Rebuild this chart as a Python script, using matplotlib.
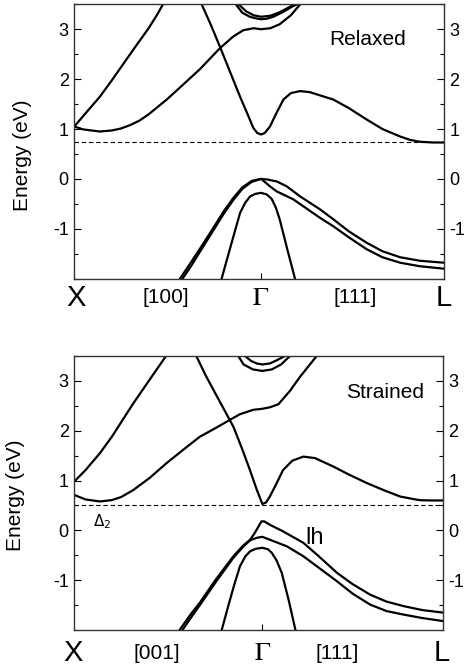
import numpy as np
import matplotlib
matplotlib.use('Agg')
import matplotlib.pyplot as plt
from matplotlib.ticker import MultipleLocator

plt.rcParams['font.family'] = ['Liberation Sans', 'DejaVu Sans']
plt.rcParams['axes.unicode_minus'] = False

# ---------------- Relaxed (top panel) ----------------
# k: X = 0, Gamma = 1, L = right edge
relax_kmax = 1.98
relax_gap = 0.73

relax_c1_k = [0, 0.05, 0.1375, 0.2, 0.25, 0.3, 0.35, 0.4, 0.495, 0.58, 0.673, 0.78, 0.85, 0.905, 0.96, 1.0,
              1.05, 1.1, 1.16, 1.21]
relax_c1_e = [1.05, 0.99, 0.95, 0.97, 1.01, 1.08, 1.17, 1.3, 1.59, 1.88, 2.2, 2.62, 2.85, 2.98, 3.02, 3.0,
              3.02, 3.1, 3.28, 3.5]

relax_c2_k = [0, 0.05, 0.1375, 0.2, 0.316, 0.4, 0.445, 0.475]
relax_c2_e = [1.05, 1.27, 1.65, 1.97, 2.59, 3.03, 3.3, 3.5]

relax_c3_k = [0.682, 0.73, 0.78, 0.8875, 0.93, 0.959, 0.98, 1.0, 1.02, 1.048, 1.08, 1.12, 1.16, 1.209,
              1.26, 1.3875, 1.47, 1.566, 1.65, 1.745, 1.8, 1.85, 1.92, 1.98]
relax_c3_e = [3.5, 3.1, 2.65, 1.65, 1.28, 1.02, 0.92, 0.89, 0.92, 1.05, 1.3, 1.59, 1.72, 1.76,
              1.74, 1.59, 1.42, 1.19, 1.0, 0.85, 0.78, 0.745, 0.73, 0.73]

relax_u1_k = [0.865, 0.9, 0.94, 0.97, 1.0, 1.03, 1.066, 1.12, 1.17, 1.195]
relax_u1_e = [3.5, 3.33, 3.25, 3.22, 3.2, 3.21, 3.25, 3.35, 3.46, 3.5]
relax_u2_k = [0.88, 0.92, 0.96, 1.0, 1.05, 1.1, 1.15, 1.18]
relax_u2_e = [3.5, 3.36, 3.28, 3.25, 3.27, 3.34, 3.44, 3.5]

relax_v1_k = [0.566, 0.62, 0.673, 0.75, 0.8, 0.852, 0.9, 0.95, 1.0, 1.03, 1.084, 1.138, 1.209, 1.316,
              1.3875, 1.47, 1.566, 1.65, 1.745, 1.85, 1.98]
relax_v1_e = [-2.0, -1.7, -1.4, -0.95, -0.65, -0.38, -0.17, -0.04, 0.0, -0.01, -0.05, -0.15, -0.35, -0.61,
              -0.81, -1.05, -1.28, -1.45, -1.57, -1.64, -1.68]
relax_v2_k = [0.58, 0.63, 0.673, 0.75, 0.8, 0.852, 0.9, 0.95, 1.0, 1.02, 1.048, 1.084, 1.173, 1.316,
              1.3875, 1.47, 1.566, 1.65, 1.745, 1.85, 1.98]
relax_v2_e = [-2.0, -1.72, -1.46, -1.0, -0.7, -0.42, -0.2, -0.06, 0.0, -0.06, -0.15, -0.25, -0.41, -0.78,
              -0.95, -1.17, -1.41, -1.57, -1.68, -1.75, -1.8]
relax_so_k = [0.789, 0.83, 0.86, 0.888, 0.915, 0.942, 0.97, 1.0, 1.03, 1.057, 1.08, 1.1, 1.14, 1.182]
relax_so_e = [-2.0, -1.45, -1.05, -0.68, -0.48, -0.35, -0.3, -0.28, -0.31, -0.4, -0.58, -0.81, -1.4, -2.0]

# ---------------- Strained (bottom panel) ----------------
strain_kmax = 1.959
strain_gap = 0.51

strain_c1_k = [0, 0.06, 0.1365, 0.2, 0.25, 0.314, 0.4, 0.491, 0.58, 0.668, 0.75, 0.81, 0.88, 0.952, 1.0,
               1.04, 1.085, 1.147, 1.2, 1.289]
strain_c1_e = [0.71, 0.62, 0.58, 0.607, 0.67, 0.81, 1.05, 1.35, 1.62, 1.88, 2.05, 2.18, 2.33, 2.42, 2.44,
               2.47, 2.53, 2.8, 3.08, 3.5]

strain_c2_k = [0, 0.06, 0.1365, 0.2, 0.314, 0.4, 0.486]
strain_c2_e = [0.98, 1.21, 1.55, 1.88, 2.55, 3.02, 3.49]

strain_c3_k = [0.65, 0.7, 0.75, 0.846, 0.89, 0.934, 0.97, 1.0, 1.02, 1.04, 1.07, 1.11, 1.16, 1.218,
               1.28, 1.378, 1.46, 1.555, 1.65, 1.732, 1.8, 1.84, 1.9, 1.959]
strain_c3_e = [3.49, 3.1, 2.75, 2.08, 1.66, 1.21, 0.82, 0.53, 0.56, 0.68, 0.9, 1.21, 1.4, 1.48,
               1.45, 1.28, 1.12, 0.95, 0.8, 0.68, 0.63, 0.605, 0.6, 0.6]

strain_u1_k = [0.872, 0.9, 0.95, 1.0, 1.05, 1.1, 1.147]
strain_u1_e = [3.5, 3.33, 3.23, 3.2, 3.23, 3.33, 3.5]
strain_u2_k = [0.908, 0.94, 0.97, 1.0, 1.04, 1.08, 1.12]
strain_u2_e = [3.5, 3.4, 3.35, 3.33, 3.35, 3.42, 3.5]

strain_lh_k = [0.56, 0.62, 0.668, 0.75, 0.846, 0.9, 0.935, 0.96, 0.98, 0.995, 1.01, 1.041, 1.11, 1.218,
               1.3, 1.396, 1.48, 1.573, 1.66, 1.75, 1.85, 1.959]
strain_lh_e = [-2.0, -1.68, -1.45, -1.0, -0.52, -0.3, -0.19, -0.05, 0.08, 0.18, 0.18, 0.11, -0.02, -0.25,
               -0.52, -0.85, -1.08, -1.29, -1.43, -1.52, -1.6, -1.65]
strain_hh_k = [0.575, 0.63, 0.668, 0.75, 0.846, 0.9, 0.935, 0.97, 1.0, 1.041, 1.13, 1.218, 1.3, 1.396,
               1.48, 1.573, 1.66, 1.75, 1.85, 1.959]
strain_hh_e = [-2.0, -1.7, -1.5, -1.05, -0.55, -0.32, -0.2, -0.15, -0.13, -0.19, -0.32, -0.52, -0.75, -1.02,
               -1.27, -1.49, -1.62, -1.69, -1.76, -1.82]
strain_so_k = [0.784, 0.82, 0.85, 0.881, 0.91, 0.935, 0.965, 1.0, 1.03, 1.05, 1.075, 1.103, 1.14, 1.176]
strain_so_e = [-2.0, -1.5, -1.1, -0.72, -0.52, -0.42, -0.37, -0.35, -0.38, -0.45, -0.6, -0.85, -1.4, -2.0]

relax_bands = [(relax_c1_k, relax_c1_e), (relax_c2_k, relax_c2_e), (relax_c3_k, relax_c3_e),
               (relax_u1_k, relax_u1_e), (relax_u2_k, relax_u2_e),
               (relax_v1_k, relax_v1_e), (relax_v2_k, relax_v2_e), (relax_so_k, relax_so_e)]
strain_bands = [(strain_c1_k, strain_c1_e), (strain_c2_k, strain_c2_e), (strain_c3_k, strain_c3_e),
                (strain_u1_k, strain_u1_e), (strain_u2_k, strain_u2_e),
                (strain_lh_k, strain_lh_e), (strain_hh_k, strain_hh_e), (strain_so_k, strain_so_e)]

relax_labels = ['X', '[100]', r'$\Gamma$', '[111]', 'L']
strain_labels = ['X', '[001]', r'$\Gamma$', '[111]', 'L']


def draw_panel(ax, bands, kmax, gap, title, labels, label_x, label_y, ylab_x, ylab_y):
    for k, e in bands:
        ax.plot(k, e, color='black', lw=1.6, solid_capstyle='round', solid_joinstyle='round')
    ax.axhline(gap, color='black', lw=0.8, ls=(0, (4, 2.5)))
    ax.set_xlim(0, kmax)
    ax.set_ylim(-2, 3.5)
    ax.set_xticks([1.0])
    ax.set_xticklabels([])
    ax.tick_params(axis='x', direction='in', length=4, width=0.8, top=False)
    ax.yaxis.set_major_locator(MultipleLocator(1))
    ax.yaxis.set_minor_locator(MultipleLocator(0.5))
    ax.tick_params(axis='y', which='both', direction='in', left=True, right=True,
                   labelleft=True, labelright=True, labelsize=13, width=0.8, pad=4)
    ax.tick_params(axis='y', which='major', length=5)
    ax.tick_params(axis='y', which='minor', length=3)
    ax.set_yticks([-1, 0, 1, 2, 3])
    for s in ax.spines.values():
        s.set_linewidth(1.0)
        s.set_color('#333333')
    ax.set_ylabel('Energy (eV)', fontsize=15)
    ax.yaxis.set_label_coords(ylab_x, ylab_y)
    ax.text(title[1], title[2], title[0], fontsize=15, ha='center', va='center')
    sizes = [21, 15, 19, 15, 21]
    for lab, xpos, fs in zip(labels, label_x, sizes):
        if lab.startswith('$'):
            ax.text(xpos, label_y, r'$\mathrm{\Gamma}$', fontsize=fs, ha='center', va='center',
                    transform=ax.get_xaxis_transform(), math_fontfamily='stix')
        else:
            ax.text(xpos, label_y, lab, fontsize=fs, ha='center', va='center',
                    transform=ax.get_xaxis_transform())


fig = plt.figure(figsize=(4.66, 6.68), dpi=100)
ax1 = fig.add_axes([0.1594, 0.5828, 0.7934, 0.4108])
ax2 = fig.add_axes([0.1594, 0.0569, 0.7906, 0.4102])

draw_panel(ax1, relax_bands, relax_kmax, relax_gap, ('Relaxed', 1.573, 2.8), relax_labels,
           [0.01, 0.49, 1.0, 1.503, 1.98], -0.069, -0.115, 0.45)
draw_panel(ax2, strain_bands, strain_kmax, strain_gap, ('Strained', 1.652, 2.77), strain_labels,
           [-0.007, 0.44, 1.0, 1.40, 1.956], -0.084, -0.134, 0.49)

ax2.text(0.146, 0.18, r'$\Delta_2$', fontsize=11, ha='center', va='center')
ax2.text(1.28, -0.15, 'lh', fontsize=17, ha='center', va='center')

fig.savefig('out.png', dpi=100)
